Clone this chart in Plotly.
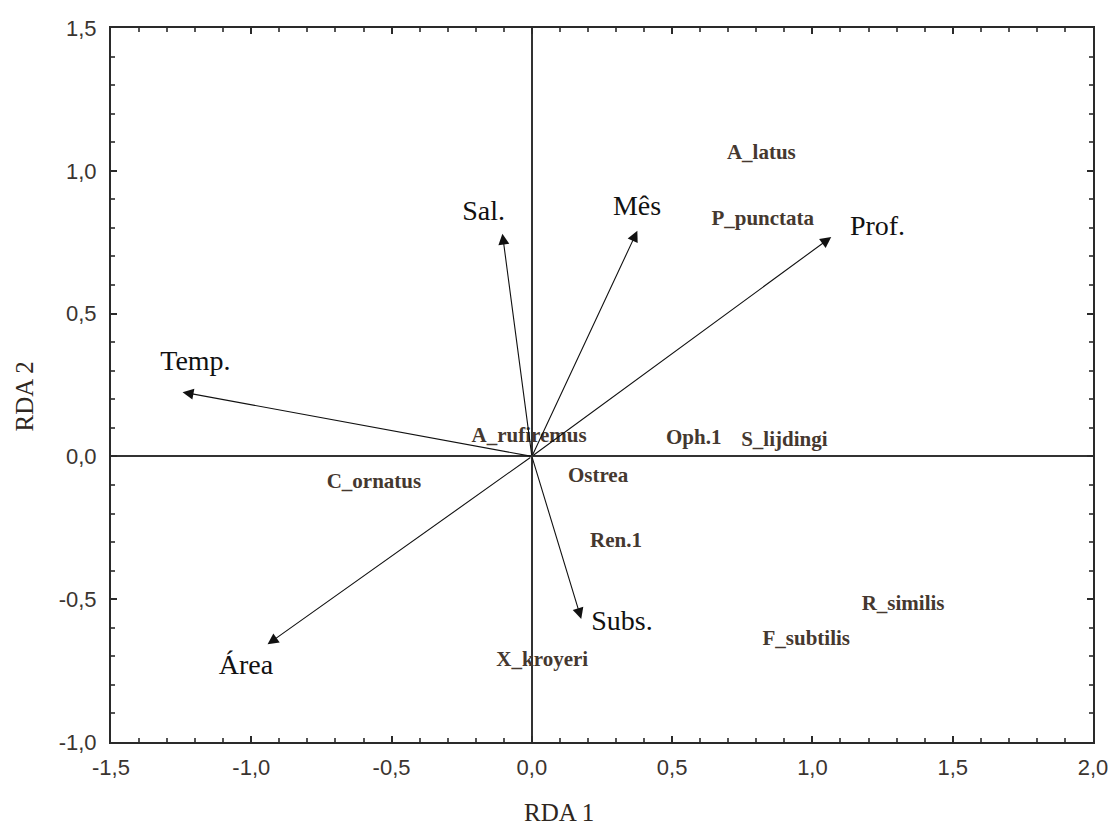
import plotly.graph_objects as go

# Environmental vectors (arrow tips) and label positions
env_names = ["Temp.", "Sal.", "Mês", "Prof.", "Área", "Subs."]
env_x = [-1.245, -0.105, 0.376, 1.067, -0.942, 0.176]
env_y = [0.225, 0.780, 0.790, 0.768, -0.658, -0.569]
env_lab_x = [-1.199, -0.172, 0.375, 1.232, -1.019, 0.321]
env_lab_y = [0.326, 0.851, 0.869, 0.799, -0.739, -0.584]

# Species scores
sp_names = ["A_latus", "P_punctata", "A_rufiremus", "C_ornatus", "Oph.1", "S_lijdingi",
            "Ostrea", "Ren.1", "R_similis", "F_subtilis", "X_kroyeri"]
sp_x = [0.818, 0.823, -0.010, -0.563, 0.577, 0.900, 0.236, 0.300, 1.323, 0.978, 0.037]
sp_y = [1.061, 0.827, 0.068, -0.093, 0.062, 0.056, -0.072, -0.300, -0.518, -0.642, -0.715]

x_ticks = [-1.5, -1.0, -0.5, 0.0, 0.5, 1.0, 1.5, 2.0]
x_tick_text = ["-1,5", "-1,0", "-0,5", "0,0", "0,5", "1,0", "1,5", "2,0"]
y_ticks = [-1.0, -0.5, 0.0, 0.5, 1.0, 1.5]
y_tick_text = ["-1,0", "-0,5", "0,0", "0,5", "1,0", "1,5"]

SERIF = "Liberation Serif, Times New Roman, serif"

fig = go.Figure()

fig.add_trace(go.Scatter(
    x=sp_x, y=sp_y, mode="text", text=["<b>" + s + "</b>" for s in sp_names],
    textfont=dict(family=SERIF, size=21, color="#45382f"),
    textposition="middle center", hoverinfo="skip", showlegend=False))

fig.add_trace(go.Scatter(
    x=env_lab_x, y=env_lab_y, mode="text", text=env_names,
    textfont=dict(family=SERIF, size=28, color="#111111"),
    textposition="middle center", hoverinfo="skip", showlegend=False))

for ex, ey in zip(env_x, env_y):
    fig.add_annotation(x=ex, y=ey, ax=0, ay=0, xref="x", yref="y", axref="x", ayref="y",
                       text="", showarrow=True, arrowhead=2, arrowsize=2.0,
                       arrowwidth=1.1, arrowcolor="#111111")

axis_common = dict(
    showgrid=False, zeroline=True, zerolinecolor="#333333", zerolinewidth=2,
    showline=True, linecolor="#2a2a2a", linewidth=2, mirror="ticks",
    ticks="inside", ticklen=6, tickwidth=2, tickcolor="#2a2a2a",
    tickfont=dict(family="Liberation Sans, Arial, sans-serif", size=22, color="#3a3430"),
    minor=dict(ticks="inside", ticklen=4, tickwidth=1.5, tickcolor="#555555", dtick=0.1),
)

fig.update_xaxes(range=[-1.5, 2.0], tickvals=x_ticks, ticktext=x_tick_text,
                 ticklabelstandoff=5, **axis_common)
fig.update_yaxes(range=[-1.0, 1.5], tickvals=y_ticks, ticktext=y_tick_text,
                 ticklabelstandoff=8, **axis_common)

fig.add_annotation(text="RDA 1", xref="paper", yref="paper", x=(562 - 111) / 988, y=-(812 - 742) / 714,
                   showarrow=False, font=dict(family=SERIF, size=25, color="#2e2620"),
                   xanchor="center", yanchor="middle")
fig.add_annotation(text="RDA 2", xref="paper", yref="paper", x=-(111 - 24) / 988, y=(742 - 397) / 714,
                   showarrow=False, textangle=-90,
                   font=dict(family=SERIF, size=25, color="#2e2620"),
                   xanchor="center", yanchor="middle")

fig.update_layout(
    width=1120, height=828,
    margin=dict(l=111, r=21, t=28, b=86),
    plot_bgcolor="white", paper_bgcolor="white",
    showlegend=False,
)

fig.write_html("out.html")
